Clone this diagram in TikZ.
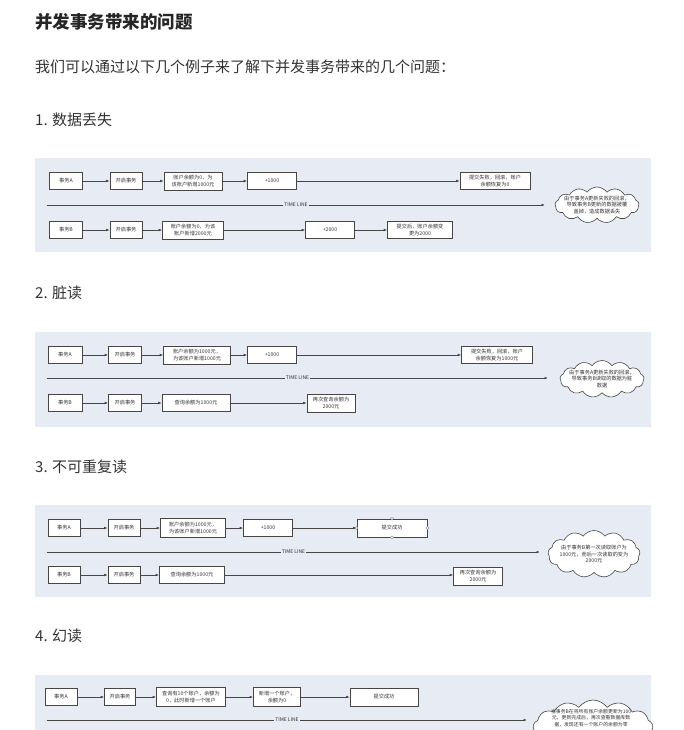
\documentclass[tikz,border=0pt]{standalone}
\usepackage{fontspec}
\setmainfont{Noto Sans CJK SC}
\usetikzlibrary{arrows.meta,shapes.symbols}
\definecolor{panelbg}{RGB}{231,236,244}
\definecolor{linec}{RGB}{70,70,70}
\definecolor{textc}{RGB}{51,51,51}

\begin{document}
\begin{tikzpicture}[x=1pt,y=-1pt,>={Latex[length=3.5pt,width=2.6pt]},
	box/.style={draw=linec,fill=white,line width=0.6pt,minimum height=17pt,inner sep=0.5pt,align=center,font=\fontsize{5.2}{6.3}\selectfont,text=textc},
	flow/.style={->,draw=linec,line width=0.6pt},
	timeline/.style={->,draw=linec,line width=0.7pt},
	tllabel/.style={fill=panelbg,inner sep=1pt,font=\fontsize{5}{6}\selectfont,text=textc},
	cloudy/.style={cloud,cloud puffs=13,cloud puff arc=110,cloud ignores aspect,draw=linec,fill=white,line width=0.6pt,inner sep=0pt},
	cloudtext/.style={align=center,inner sep=0pt,font=\fontsize{5.2}{6.6}\selectfont,text=textc},
	heading/.style={anchor=west,inner sep=0pt,text=textc,font=\fontsize{15}{18}\selectfont},
	panel/.style={fill=panelbg,draw=none},
	handle/.style={draw=linec!70,fill=white,line width=0.4pt}]
	  \useasboundingbox (0,0) rectangle (684,730);
	  \clip (0,0) rectangle (684,730);
	  \fill[white] (0,0) rectangle (684,730);
	  \node[heading,text=black!85,font=\bfseries\fontsize{17.5}{20}\selectfont] (title) at (35,22) {并发事务带来的问题};
	  \node[heading] (intro) at (35,67) {我们可以通过以下几个例子来了解下并发事务带来的几个问题：};
	  \node[heading] (h1) at (35,120) {1. 数据丢失};
	  \node[heading] (h2) at (35,293) {2. 脏读};
	  \node[heading] (h3) at (35,467) {3. 不可重复读};
	  \node[heading] (h4) at (35,636) {4. 幻读};
	  \path[panel] (35,158) rectangle (651,252);
	  \path[panel] (35,332) rectangle (651,427);
	  \path[panel] (35,505) rectangle (651,597);
	  \path[panel] (35,675) rectangle (651,735);
	  % 1. 数据丢失
	  \node[box,minimum width=33pt] (a11) at (66,181) {事务A};
	  \node[box,minimum width=32pt] (a12) at (126,181) {开启事务};
	  \node[box,minimum width=58pt,minimum height=18pt] (a13) at (193,181) {账户余额为0，为\\该账户新增1000元};
	  \node[box,minimum width=49pt] (a14) at (272,181) {+1000};
	  \node[box,minimum width=70pt] (a15) at (495,181) {提交失败，回滚，账户\\余额恢复为0};
	  \node[box,minimum width=33pt] (b11) at (66,230) {事务B};
	  \node[box,minimum width=32pt] (b12) at (126,230) {开启事务};
	  \node[box,minimum width=61pt,minimum height=18pt] (b13) at (193,230) {账户余额为0，为该\\账户新增2000元};
	  \node[box,minimum width=49pt] (b14) at (330,230) {+2000};
	  \node[box,minimum width=65pt] (b15) at (420,230) {提交后，账户余额变\\更为2000};
	  \draw[flow] (a11) -- (a12);
	  \draw[flow] (a12) -- (a13);
	  \draw[flow] (a13) -- (a14);
	  \draw[flow] (a14) -- (a15);
	  \draw[flow] (b11) -- (b12);
	  \draw[flow] (b12) -- (b13);
	  \draw[flow] (b13) -- (b14);
	  \draw[flow] (b14) -- (b15);
	  \coordinate (t1s) at (47,205);
	  \coordinate (t1e) at (545,205);
	  \draw[timeline] (t1s) -- node[tllabel] {TIME LINE} (t1e);
	  \node[cloudy,minimum width=84pt,minimum height=36pt] (c1) at (597,205) {};
	  \node[cloudtext] (c1t) at (c1) {由于事务A更新失败的回滚，\\导致事务B更新的数据被覆\\盖掉，造成数据丢失};
	  % 2. 脏读
	  \node[box,minimum width=34pt] (a21) at (65,355) {事务A};
	  \node[box,minimum width=33pt] (a22) at (125,355) {开启事务};
	  \node[box,minimum width=67pt,minimum height=18pt] (a23) at (197,355) {账户余额为1000元，\\为该账户新增1000元};
	  \node[box,minimum width=49pt] (a24) at (272,355) {+1000};
	  \node[box,minimum width=71pt] (a25) at (497,355) {提交失败，回滚，账户\\余额恢复为1000元};
	  \node[box,minimum width=34pt] (b21) at (65,403) {事务B};
	  \node[box,minimum width=33pt] (b22) at (125,403) {开启事务};
	  \node[box,minimum width=68pt] (b23) at (196,403) {查询余额为1000元};
	  \node[box,minimum width=48pt,minimum height=18pt] (b24) at (331,403) {再次查询余额为\\2000元};
	  \draw[flow] (a21) -- (a22);
	  \draw[flow] (a22) -- (a23);
	  \draw[flow] (a23) -- (a24);
	  \draw[flow] (a24) -- (a25);
	  \draw[flow] (b21) -- (b22);
	  \draw[flow] (b22) -- (b23);
	  \draw[flow] (b23) -- (b24);
	  \coordinate (t2s) at (47,378);
	  \coordinate (t2e) at (548,378);
	  \draw[timeline] (t2s) -- node[tllabel] {TIME LINE} (t2e);
	  \node[cloudy,minimum width=84pt,minimum height=37pt] (c2) at (602,379) {};
	  \node[cloudtext] (c2t) at (c2) {由于事务A更新失败的回滚，\\导致事务B读取的数据为脏\\数据};
	  % 3. 不可重复读
	  \node[box,minimum width=32pt] (a31) at (64,528) {事务A};
	  \node[box,minimum width=32pt] (a32) at (124,528) {开启事务};
	  \node[box,minimum width=65pt,minimum height=19pt] (a33) at (193,528) {账户余额为1000元，\\为该账户新增1000元};
	  \node[box,minimum width=49pt] (a34) at (268,528) {+1000};
	  \node[box,minimum width=70pt,minimum height=18pt] (a35) at (392,528) {提交成功};
	  \node[box,minimum width=32pt] (b31) at (64,575) {事务B};
	  \node[box,minimum width=32pt] (b32) at (124,575) {开启事务};
	  \node[box,minimum width=65pt] (b33) at (192,575) {查询余额为1000元};
	  \node[box,minimum width=49pt,minimum height=18pt] (b34) at (478,576) {再次查询余额为\\2000元};
	  \draw[flow] (a31) -- (a32);
	  \draw[flow] (a32) -- (a33);
	  \draw[flow] (a33) -- (a34);
	  \draw[flow] (a34) -- (a35);
	  \draw[flow] (b31) -- (b32);
	  \draw[flow] (b32) -- (b33);
	  \draw[flow] (b33.east) -- (b34.west |- b33.east);
	  \draw[handle] (a35.north) circle (1.5pt);
	  \draw[handle] (a35.south) circle (1.5pt);
	  \draw[handle] (a35.east) circle (1.5pt);
	  \draw[handle] (a35.west) circle (1.5pt);
	  \coordinate (t3s) at (47,552);
	  \coordinate (t3e) at (540,552);
	  \draw[timeline] (t3s) -- node[tllabel] {TIME LINE} (t3e);
	  \node[cloudy,minimum width=92pt,minimum height=47pt] (c3) at (594,554) {};
	  \node[cloudtext] (c3t) at (c3) {由于事务B第一次读取账户为\\1000元，而后一次读取的变为\\2000元};
	  % 4. 幻读
	  \node[box,minimum width=32pt] (a41) at (61,697) {事务A};
	  \node[box,minimum width=31pt] (a42) at (120,697) {开启事务};
	  \node[box,minimum width=69pt,minimum height=19pt] (a43) at (191,697) {查询有10个账户，余额为\\0，此时新增一个账户};
	  \node[box,minimum width=47pt,minimum height=19pt] (a44) at (277,697) {新增一个账户，\\余额为0};
	  \node[box,minimum width=68pt,minimum height=18pt] (a45) at (384,697) {提交成功};
	  \draw[flow] (a41) -- (a42);
	  \draw[flow] (a42) -- (a43);
	  \draw[flow] (a43) -- (a44);
	  \draw[flow] (a44) -- (a45);
	  \coordinate (t4s) at (47,720);
	  \coordinate (t4e) at (527,720);
	  \draw[timeline] (t4s) -- node[tllabel] {TIME LINE} (t4e);
	  \node[cloudy,minimum width=120pt,minimum height=56pt] (c4) at (593,728) {};
	  \node[cloudtext,anchor=north,font=\fontsize{4.9}{6.4}\selectfont] (c4t) at (591,709) {当事务B在将所有账户余额更新为100\\元，更新完成后，再次查看数据库数\\据，发现还有一个账户的余额为零};
	\end{tikzpicture}
\end{document}
